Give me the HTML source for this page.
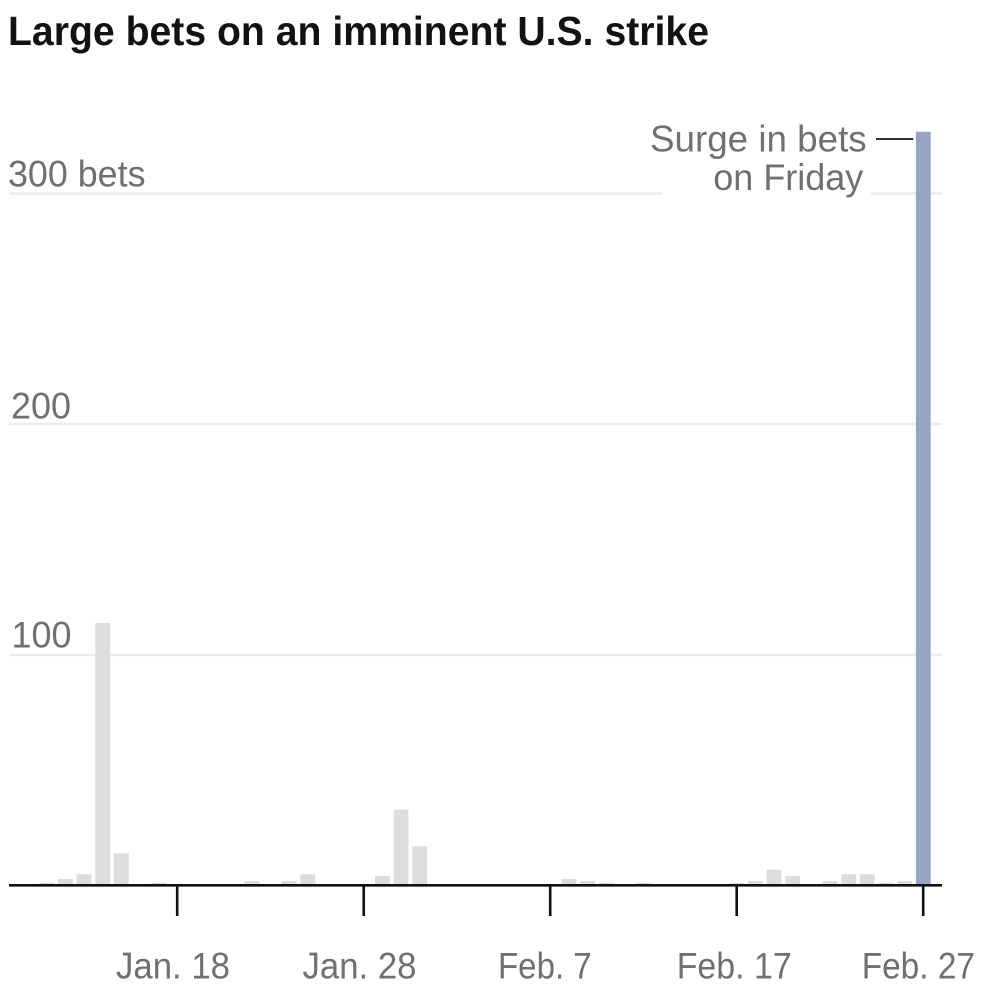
<!DOCTYPE html>
<html>
<head>
<meta charset="utf-8">
<style>
  html, body { margin: 0; padding: 0; background: #ffffff; }
  body { width: 1000px; height: 1000px; overflow: hidden; }
  svg { display: block; }
  text { font-family: "Liberation Sans", "DejaVu Sans", sans-serif; }
</style>
</head>
<body>
<svg width="1000" height="1000" viewBox="0 0 1000 1000" xmlns="http://www.w3.org/2000/svg">
  <rect x="0" y="0" width="1000" height="1000" fill="#ffffff"/>

  <!-- Title -->
  <text x="8" y="45" font-size="41" font-weight="bold" fill="#121212" textLength="701" lengthAdjust="spacingAndGlyphs">Large bets on an imminent U.S. strike</text>

  <!-- Gridlines -->
  <g stroke="#ececec" stroke-width="2.5">
    <line x1="9" y1="193.5" x2="662" y2="193.5"/>
    <line x1="871" y1="193.5" x2="942" y2="193.5"/>
    <line x1="9" y1="424" x2="942" y2="424"/>
    <line x1="9" y1="655" x2="942" y2="655"/>
  </g>

  <!-- Y labels -->
  <g fill="#707070" font-size="37">
    <text x="8" y="186.7" textLength="137.5" lengthAdjust="spacingAndGlyphs">300 bets</text>
    <text x="11" y="418.3" textLength="60" lengthAdjust="spacingAndGlyphs">200</text>
    <text x="11.5" y="647.7" textLength="60" lengthAdjust="spacingAndGlyphs">100</text>
  </g>

  <!-- Gray bars -->
  <g fill="#dddddd">
    <rect x="39.3" y="883" width="14.8" height="1.2"/>
    <rect x="58" y="879" width="14.8" height="5"/>
    <rect x="76.6" y="874.3" width="14.8" height="9.7"/>
    <rect x="95.3" y="623" width="14.8" height="261"/>
    <rect x="113.9" y="853.3" width="14.8" height="30.7"/>
    <rect x="151.2" y="883" width="14.8" height="1.2"/>
    <rect x="244.5" y="881" width="14.8" height="3"/>
    <rect x="281.8" y="881" width="14.8" height="3"/>
    <rect x="300.4" y="874.3" width="14.8" height="9.7"/>
    <rect x="375" y="876" width="14.8" height="8"/>
    <rect x="393.7" y="809.7" width="14.8" height="74.3"/>
    <rect x="412.3" y="846.3" width="14.8" height="37.7"/>
    <rect x="561.5" y="879" width="14.8" height="5"/>
    <rect x="580.2" y="881" width="14.8" height="3"/>
    <rect x="598.8" y="883" width="14.8" height="1.2"/>
    <rect x="636.1" y="883" width="14.8" height="1.2"/>
    <rect x="729.4" y="883" width="14.8" height="1.2"/>
    <rect x="748" y="881" width="14.8" height="3"/>
    <rect x="766.7" y="869.7" width="14.8" height="14.3"/>
    <rect x="785.3" y="876" width="14.8" height="8"/>
    <rect x="822.6" y="881" width="14.8" height="3"/>
    <rect x="841.3" y="874.3" width="14.8" height="9.7"/>
    <rect x="859.9" y="874.3" width="14.8" height="9.7"/>
    <rect x="878.6" y="883" width="14.8" height="1.2"/>
    <rect x="897.2" y="881" width="14.8" height="3"/>
  </g>

  <!-- Highlight bar Feb 27 -->
  <rect x="915.9" y="131.7" width="14.8" height="752.3" fill="#96a3c3"/>

  <!-- Axis line -->
  <line x1="9" y1="885.3" x2="942" y2="885.3" stroke="#111111" stroke-width="2.6"/>

  <!-- Ticks -->
  <g stroke="#111111" stroke-width="2.6">
    <line x1="177.2" y1="885" x2="177.2" y2="916"/>
    <line x1="363.7" y1="885" x2="363.7" y2="916"/>
    <line x1="550.2" y1="885" x2="550.2" y2="916"/>
    <line x1="736.7" y1="885" x2="736.7" y2="916"/>
    <line x1="923.2" y1="885" x2="923.2" y2="916"/>
  </g>

  <!-- X labels -->
  <g fill="#707070" font-size="37">
    <text x="116" y="978.3" textLength="114" lengthAdjust="spacingAndGlyphs">Jan. 18</text>
    <text x="302.5" y="978.3" textLength="114" lengthAdjust="spacingAndGlyphs">Jan. 28</text>
    <text x="498" y="978.3" textLength="93.7" lengthAdjust="spacingAndGlyphs">Feb. 7</text>
    <text x="676.7" y="978.3" textLength="115" lengthAdjust="spacingAndGlyphs">Feb. 17</text>
    <text x="861.7" y="978.3" textLength="113.3" lengthAdjust="spacingAndGlyphs">Feb. 27</text>
  </g>

  <!-- Annotation -->
  <g fill="#707070" font-size="37" text-anchor="end">
    <text x="866.7" y="151.5" textLength="216.7" lengthAdjust="spacingAndGlyphs">Surge in bets</text>
    <text x="863.3" y="190" textLength="150" lengthAdjust="spacingAndGlyphs">on Friday</text>
  </g>
  <line x1="876" y1="139" x2="913.3" y2="139" stroke="#333333" stroke-width="2"/>
</svg>
</body>
</html>
